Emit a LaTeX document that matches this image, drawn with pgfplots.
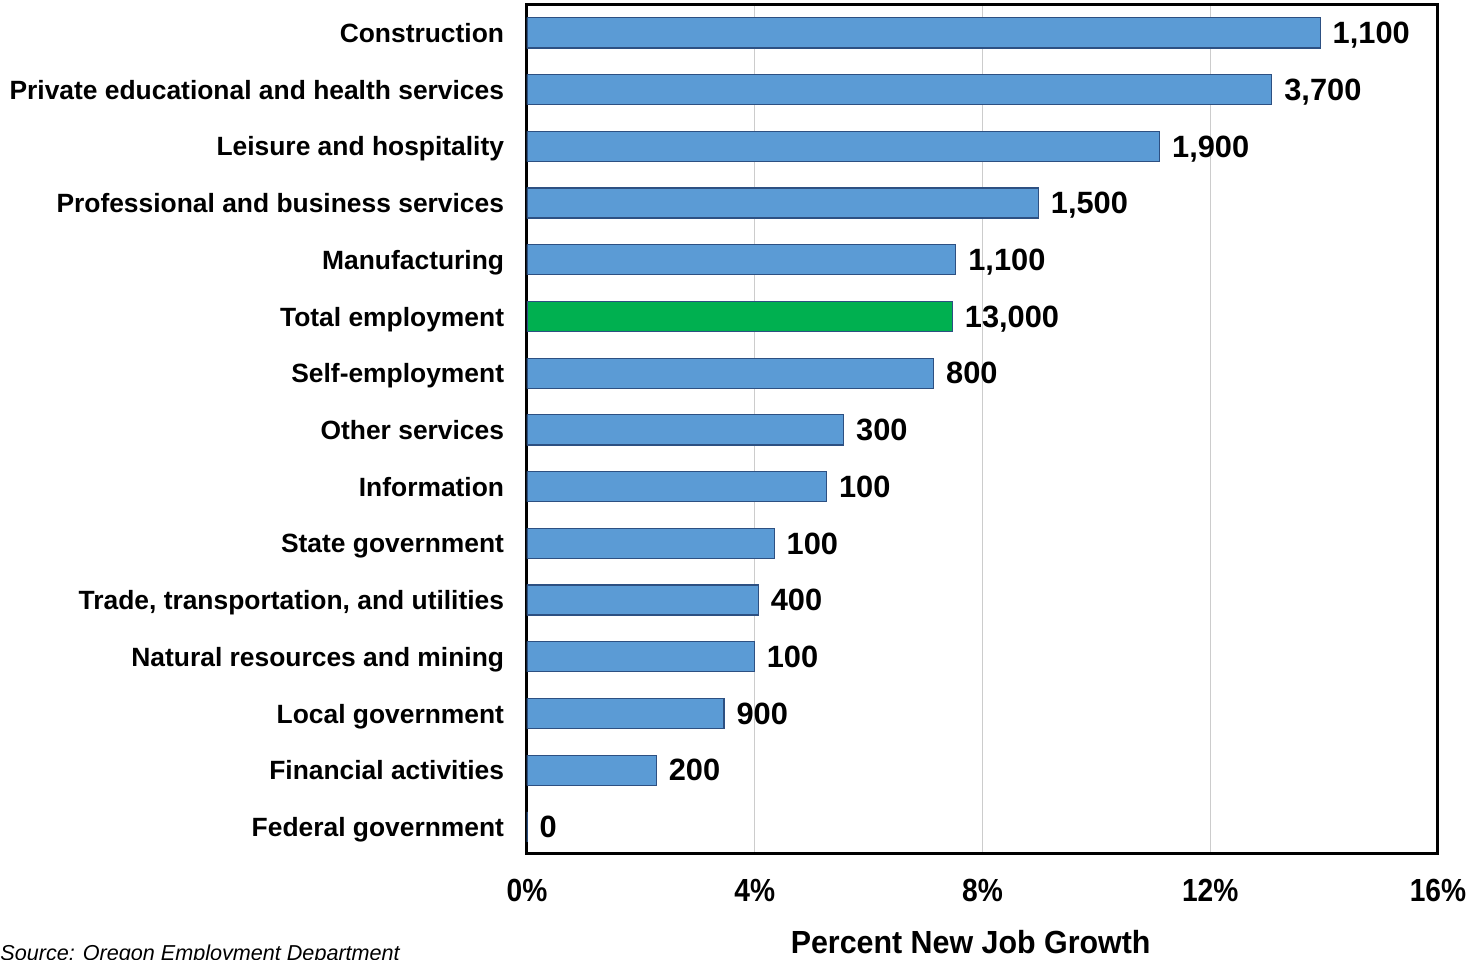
\documentclass[border=0pt]{standalone}
\usepackage{pgfplots}
\pgfplotsset{compat=1.18}
\usepackage{fontspec}
\setmainfont{Liberation Sans}
\definecolor{barblue}{RGB}{91,155,213}
\definecolor{baredge}{RGB}{45,80,130}
\definecolor{bargreen}{RGB}{0,176,80}
\newcommand{\cond}[1]{\scalebox{0.88}[1]{#1}}
\begin{document}
\begin{tikzpicture}
\begin{axis}[
  at={(0,0)}, anchor=south west,
  scale only axis, width=455.5pt, height=424.5pt,
  xbar, bar width=0.53, bar shift=0pt,
  xmin=0, xmax=16, ymin=-0.51, ymax=14.46, y dir=reverse,
  axis line style={line width=1.5pt},
  xmajorgrids, grid style={black!20, line width=0.6pt},
  xtick={0,4,8,12,16},
  xticklabels={\cond{0\%},\cond{4\%},\cond{8\%},\cond{12\%},\cond{16\%}},
  x tick label style={font=\fontsize{16}{18}\selectfont\bfseries, inner sep=0pt, anchor=center, yshift=-18.5pt},
  ytick={0,...,14},
  yticklabels={Construction,Private educational and health services,Leisure and hospitality,Professional and business services,Manufacturing,Total employment,Self-employment,Other services,Information,State government,{Trade, transportation, and utilities},Natural resources and mining,Local government,Financial activities,Federal government},
  y tick label style={font=\fontsize{13.2}{15}\selectfont\bfseries, inner sep=0pt, text depth=0pt, anchor=east, xshift=-7pt},
  tick style={draw=none},
  xlabel={\scalebox{0.95}[1]{Percent New Job Growth}},
  xlabel style={font=\fontsize{16}{18}\selectfont\bfseries, at={(axis description cs:0.487,0)}, anchor=base, inner sep=0pt, yshift=-50pt},
  point meta=explicit symbolic,
  nodes near coords={\pgfplotspointmeta},
  nodes near coords style={font=\fontsize{15.4}{17}\selectfont\bfseries, anchor=west, inner sep=0pt, text depth=0pt, xshift=6pt},
]
\addplot[fill=barblue, draw=baredge, line width=0.6pt] coordinates {
(13.93,0) [{1,100}]
(13.08,1) [{3,700}]
(11.11,2) [{1,900}]
(8.98,3) [{1,500}]
(7.53,4) [{1,100}]
(7.14,6) [800]
(5.56,7) [300]
(5.26,8) [100]
(4.34,9) [100]
(4.06,10) [400]
(3.99,11) [100]
(3.46,12) [900]
(2.27,13) [200]
(0,14) [0]
};
\addplot[fill=bargreen, draw=baredge, line width=0.6pt] coordinates {
(7.47,5) [{13,000}]
};
\end{axis}
\node[anchor=base west, inner sep=0pt, font=\itshape\fontsize{10.8}{12}\selectfont] at (-263.5pt,-53.5pt) {Source: Oregon Employment Department};
\pgfresetboundingbox
\path (-263.5pt,-53pt) rectangle (473pt,426.5pt);
\end{tikzpicture}
\end{document}
